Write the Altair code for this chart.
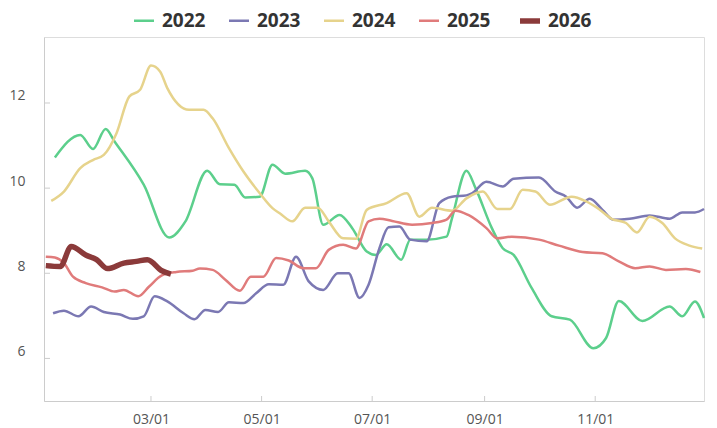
import altair as alt
import pandas as pd

years = ["2022", "2023", "2024", "2025", "2026"]
colors = ["#5ccf8c", "#7b78b3", "#e6d38c", "#e07b7b", "#8b3a3a"]
widths = [2.5, 2.5, 2.5, 2.5, 5.5]

# day offset from Jan 1 and value
d2022 = [6, 20, 27, 34, 39, 55, 69, 78, 90, 97, 105, 111, 119, 126, 133, 144, 148, 154, 163, 170,
         178, 183, 189, 197, 202, 211, 222, 225, 233, 238, 247, 253, 259, 269, 280, 290, 303, 310,
         317, 330, 345, 352, 359, 364]
v2022 = [10.72, 11.25, 10.92, 11.39, 11.09, 10.08, 8.84, 9.22, 10.41, 10.09, 10.08, 9.78, 9.80, 10.55,
         10.34, 10.41, 10.23, 9.14, 9.37, 9.06, 8.51, 8.43, 8.68, 8.32, 8.79, 8.79, 8.86, 9.29, 10.41,
         10.00, 9.06, 8.59, 8.43, 7.65, 6.99, 6.91, 6.24, 6.48, 7.35, 6.88, 7.22, 6.99, 7.34, 6.95]

d2023 = [5, 11, 19, 26, 33, 42, 49, 55, 61, 68, 77, 83, 89, 96, 102, 110, 117, 124, 132, 139, 146,
         154, 162, 168, 174, 179, 185, 190, 196, 202, 211, 218, 225, 233, 236, 244, 253, 259, 273,
         282, 288, 294, 301, 308, 314, 323, 334, 345, 352, 359, 364]
v2023 = [7.06, 7.12, 6.99, 7.22, 7.09, 7.03, 6.93, 6.99, 7.46, 7.34, 7.06, 6.92, 7.14, 7.09, 7.32,
         7.30, 7.53, 7.74, 7.73, 8.39, 7.81, 7.61, 8.00, 8.00, 7.42, 7.73, 8.59, 9.08, 9.10, 8.79,
         8.75, 9.65, 9.80, 9.83, 9.88, 10.15, 10.04, 10.22, 10.25, 9.92, 9.80, 9.54, 9.75, 9.49,
         9.26, 9.28, 9.36, 9.28, 9.43, 9.43, 9.51]

d2024 = [4, 11, 20, 27, 33, 40, 47, 53, 59, 64, 68, 80, 88, 93, 102, 110, 119, 126, 130, 137, 144,
         151, 157, 165, 172, 178, 189, 200, 207, 214, 225, 233, 242, 250, 257, 264, 271, 279, 291,
         299, 306, 313, 321, 327, 334, 341, 348, 356, 363]
v2024 = [9.70, 9.92, 10.47, 10.66, 10.78, 11.29, 12.15, 12.31, 12.88, 12.74, 12.35, 11.84, 11.84,
         11.64, 10.94, 10.39, 9.88, 9.53, 9.41, 9.22, 9.54, 9.54, 9.22, 8.82, 8.81, 9.49, 9.65, 9.88,
         9.33, 9.54, 9.47, 9.76, 9.92, 9.51, 9.51, 9.96, 9.92, 9.61, 9.80, 9.69, 9.51, 9.28, 9.18,
         8.96, 9.33, 9.18, 8.82, 8.65, 8.58]

d2025 = [1, 6, 11, 16, 23, 32, 39, 44, 52, 58, 65, 73, 82, 86, 93, 100, 108, 114, 121, 128, 135,
         143, 150, 157, 165, 172, 179, 185, 192, 203, 214, 222, 227, 234, 244, 250, 258, 273, 284,
         297, 308, 317, 326, 334, 343, 354, 362]
v2025 = [8.39, 8.37, 8.24, 7.92, 7.77, 7.67, 7.57, 7.61, 7.46, 7.69, 7.95, 8.03, 8.06, 8.11, 8.08,
         7.85, 7.59, 7.92, 7.92, 8.36, 8.30, 8.12, 8.12, 8.55, 8.67, 8.58, 9.22, 9.28, 9.23, 9.14,
         9.18, 9.26, 9.47, 9.37, 9.06, 8.82, 8.86, 8.79, 8.65, 8.50, 8.47, 8.28, 8.12, 8.16, 8.08,
         8.10, 8.03]

d2026 = [1, 9, 15, 23, 29, 35, 44, 51, 57, 65, 70]
v2026 = [8.18, 8.16, 8.63, 8.43, 8.32, 8.11, 8.24, 8.28, 8.32, 8.06, 7.98]

y_ticks = [6, 8, 10, 12]
x_tick_months = [3, 5, 7, 9, 11]

series = {"2022": (d2022, v2022), "2023": (d2023, v2023), "2024": (d2024, v2024),
          "2025": (d2025, v2025), "2026": (d2026, v2026)}
base_day = pd.Timestamp("2021-01-01")
rows = []
for yr, (ds, vs) in series.items():
    for d, v in zip(ds, vs):
        rows.append({"year": yr, "date": (base_day + pd.Timedelta(days=d)).strftime("%Y-%m-%dT00:00:00"), "value": v})
df = pd.DataFrame(rows)

W, H = 660, 364
x_scale = alt.Scale(domain=[alt.DateTime(year=2021, month=1, date=1),
                            alt.DateTime(year=2021, month=12, date=31)])
y_scale = alt.Scale(domain=[5, 13.55], nice=False, zero=False)
x_vals = [alt.DateTime(year=2021, month=m, date=1) for m in x_tick_months]

legend_opts = dict(title=None, orient="none", direction="horizontal",
                   legendX=87, legendY=-29, symbolType="stroke",
                   symbolSize=400, labelFontSize=19, labelFontWeight="bold",
                   labelColor="#333333", labelFont="Open Sans",
                   labelOffset=5, columnPadding=18, columns=5)

lines = alt.Chart(df).mark_line(interpolate="monotone").encode(
    x=alt.X("date:T", scale=x_scale, title=None,
            axis=alt.Axis(values=x_vals, format="%m/%d", ticks=False, grid=False,
                          labelPadding=11, domainColor="#cccccc", labelFontSize=14,
                          labelColor="#555555", labelFont="Open Sans")),
    y=alt.Y("value:Q", scale=y_scale, title=None,
            axis=alt.Axis(values=y_ticks, ticks=False, grid=False, labelPadding=19,
                          labelOffset=-7, domainColor="#cccccc", labelFontSize=14,
                          labelColor="#555555", labelFont="Open Sans",
                          minExtent=34, maxExtent=34)),
    color=alt.Color("year:O", scale=alt.Scale(domain=years, range=colors),
                    legend=alt.Legend(**legend_opts)),
    strokeWidth=alt.StrokeWidth("year:O", scale=alt.Scale(type="ordinal", domain=years, range=widths),
                                legend=alt.Legend(**legend_opts)),
)

ytick_df = pd.DataFrame({"v": y_ticks})
ytick_rules = alt.Chart(ytick_df).mark_rule(color="#cccccc", strokeWidth=1).encode(
    y=alt.Y("v:Q", scale=y_scale), x=alt.value(0), x2=alt.value(6))

xtick_df = pd.DataFrame({"d": [f"2021-{m:02d}-01T00:00:00" for m in x_tick_months]})
xtick_rules = alt.Chart(xtick_df).mark_rule(color="#cccccc", strokeWidth=1).encode(
    x=alt.X("d:T", scale=x_scale), y=alt.value(H - 5), y2=alt.value(H))

chart = alt.layer(ytick_rules, xtick_rules, lines).properties(
    width=W, height=H, padding=0
).configure_view(stroke=None).configure(background="white")

chart.save("out.html", embed_options={"renderer": "svg", "actions": False})
